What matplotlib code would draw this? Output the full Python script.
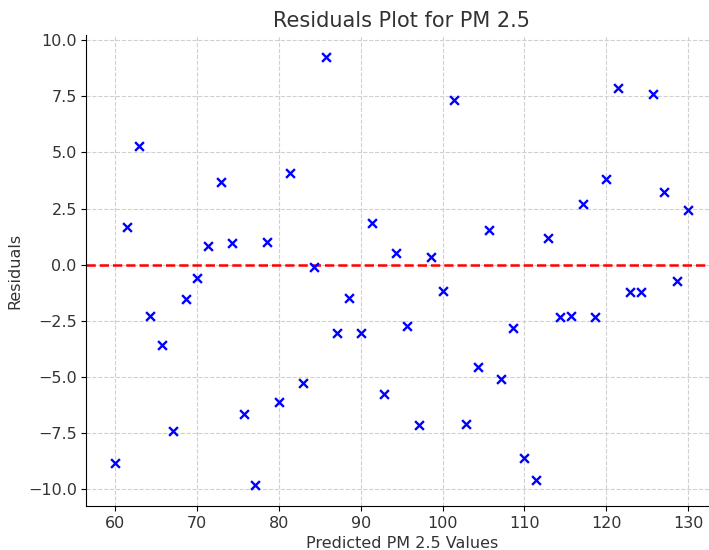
import numpy as np
import matplotlib.pyplot as plt

# predicted values (x) and residuals (y)
predicted = [60.0, 61.4, 62.9, 64.3, 65.7, 67.1, 68.6, 70.0, 71.4, 72.9,
             74.3, 75.7, 77.1, 78.6, 80.0, 81.4, 82.9, 84.3, 85.7, 87.1,
             88.6, 90.0, 91.4, 92.9, 94.3, 95.7, 97.1, 98.6, 100.0, 101.4,
             102.9, 104.3, 105.7, 107.1, 108.6, 110.0, 111.4, 112.9, 114.3, 115.7,
             117.1, 118.6, 120.0, 121.4, 122.9, 124.3, 125.7, 127.1, 128.6, 130.0]
residuals = [-8.82, 1.69, 5.30, -2.30, -3.60, -7.40, -1.51, -0.58, 0.85, 3.70,
             0.98, -6.64, -9.80, 1.02, -6.12, 4.10, -5.28, -0.09, 9.27, -3.03,
             -1.47, -3.03, 1.87, -5.75, 0.53, -2.72, -7.13, 0.36, -1.16, 7.35,
             -7.08, -4.54, 1.56, -5.08, -2.81, -8.62, -9.58, 1.20, -2.32, -2.30,
             2.72, -2.34, 3.83, 7.88, -1.20, -1.20, 7.62, 3.25, -0.71, 2.45]

fig, ax = plt.subplots(figsize=(7.09, 5.5), dpi=100)
# the original is cropped on the right, so the axes run a little past the edge
fig.subplots_adjust(left=0.122, right=1.011, top=0.936, bottom=0.080)

ax.scatter(predicted, residuals, marker='x', color='blue', s=40, linewidths=1.7, zorder=3)
ax.axhline(0, color='red', linestyle='--', linewidth=1.8, zorder=2)

ax.set_title('Residuals Plot for PM 2.5', fontsize=15, color='#333333')
ax.set_xlabel('Predicted PM 2.5 Values', fontsize=11.5, color='#333333')
ax.set_ylabel('Residuals', fontsize=11.5, color='#333333')
ax.tick_params(labelsize=11.5, labelcolor='#333333')

ax.grid(True, linestyle='--', color='#d0d0d0', linewidth=0.8)
ax.set_axisbelow(True)
ax.spines['top'].set_visible(False)
ax.spines['right'].set_visible(False)

plt.savefig('out.png', dpi=100)
